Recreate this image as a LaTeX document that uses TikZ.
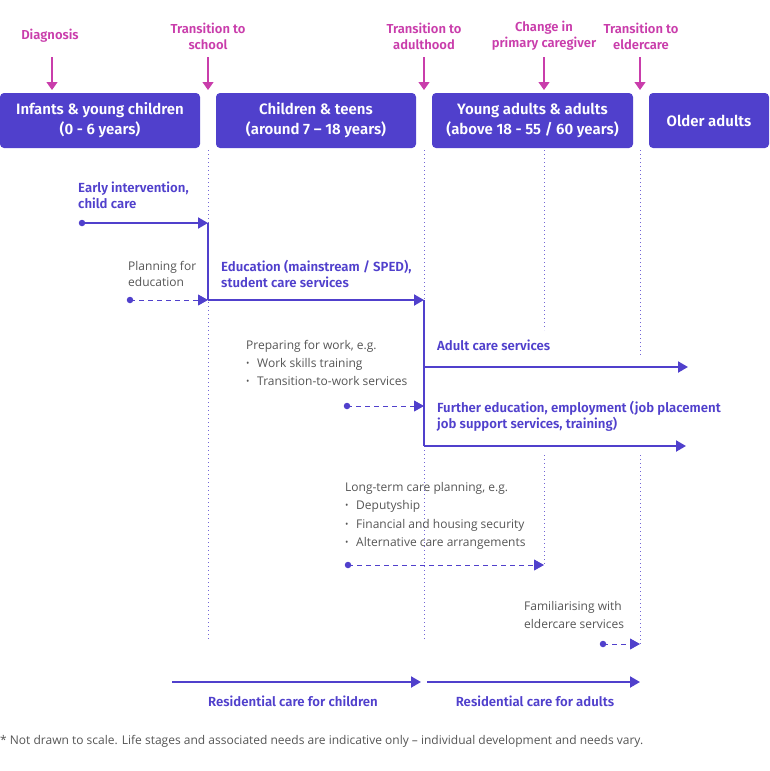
\documentclass[tikz,border=0pt]{standalone}
\usepackage{fontspec}
\setmainfont{Fira Sans}[BoldFont={Fira Sans SemiBold}]
\newfontfamily\greyfont{Open Sans}
\usetikzlibrary{arrows.meta}
\definecolor{pur}{HTML}{5040CC}
\definecolor{mag}{HTML}{C93DAB}
\definecolor{gry}{HTML}{555555}
\newcommand{\bul}{\makebox[11pt][l]{\fontsize{9}{9}\selectfont\raisebox{1pt}{•}}}
\begin{document}
\begin{tikzpicture}[x=1pt,y=-1pt,
  stage/.style={fill=pur, rounded corners=4pt, text=white, font=\bfseries\fontsize{15}{20}\selectfont, align=center, minimum height=55pt, inner sep=0pt},
  magl/.style={text=mag, font=\bfseries\fontsize{13}{16}\selectfont, align=center, inner sep=0pt},
  magarrow/.style={draw=mag, line width=1.3pt, -{Triangle[length=8pt,width=11pt]}},
  purl/.style={text=pur, font=\bfseries\fontsize{13.2}{16}\selectfont, align=left, anchor=base west, inner sep=0pt},
  gl/.style={text=gry, font=\greyfont\fontsize{12}{18}\selectfont, align=left, anchor=base west, inner sep=0pt},
  dotline/.style={draw=pur!80, line width=0.9pt, dash pattern=on 0.9pt off 3.1pt},
  mainarrow/.style={draw=pur, line width=2pt, -{Triangle[length=10pt,width=11pt]}},
  mainline/.style={draw=pur, line width=2pt},
  dasharrow/.style={draw=pur, line width=1pt, dash pattern=on 5pt off 4pt, -{Triangle[length=10pt,width=11pt]}},
  dotnode/.style={circle, fill=pur, minimum size=6.5pt, inner sep=0pt}]
\useasboundingbox (0,0) rectangle (770,771);

% guide dotted lines
\coordinate (g1a) at (208,150); \coordinate (g1b) at (208,640);
\coordinate (g2a) at (424,150); \coordinate (g2b) at (424,640);
\coordinate (g3a) at (544,150); \coordinate (g3b) at (544,330);
\coordinate (g3c) at (544,455); \coordinate (g3d) at (544,565);
\coordinate (g4a) at (640,150); \coordinate (g4b) at (640,355);
\coordinate (g4c) at (640,455); \coordinate (g4d) at (640,644);
\draw[dotline] (g1a) -- (g1b);
\draw[dotline] (g2a) -- (g2b);
\draw[dotline] (g3a) -- (g3b);
\draw[dotline] (g3c) -- (g3d);
\draw[dotline] (g4a) -- (g4b);
\draw[dotline] (g4c) -- (g4d);

% stage boxes
\node[stage, minimum width=200pt] (b1) at (100,120.5) {Infants \& young children\\(0 - 6 years)};
\node[stage, minimum width=200pt] (b2) at (316,120.5) {Children \& teens\\(around 7 – 18 years)};
\node[stage, minimum width=201pt] (b3) at (532.5,120.5) {Young adults \& adults\\(above 18 - 55 / 60 years)};
\node[stage, minimum width=120pt] (b4) at (709,120.5) {Older adults};

% magenta labels and arrows
\node[magl] (m1) at (50,36) {Diagnosis};
\node[magl] (m2) at (208,36) {Transition to\\school};
\node[magl] (m3) at (424,36) {Transition to\\adulthood};
\node[magl] (m4) at (544,36) {Change in\\primary caregiver};
\node[magl] (m5) at (641,36) {Transition to\\eldercare};
\coordinate (a1s) at (52,57); \coordinate (a1e) at (52,90);
\coordinate (a2s) at (208,57); \coordinate (a2e) at (208,90);
\coordinate (a3s) at (424,57); \coordinate (a3e) at (424,90);
\coordinate (a4s) at (544,57); \coordinate (a4e) at (544,90);
\coordinate (a5s) at (640,57); \coordinate (a5e) at (640,90);
\draw[magarrow] (a1s) -- (a1e);
\draw[magarrow] (a2s) -- (a2e);
\draw[magarrow] (a3s) -- (a3e);
\draw[magarrow] (a4s) -- (a4e);
\draw[magarrow] (a5s) -- (a5e);

% main flow
\node[dotnode] (d1) at (82,223) {};
\coordinate (p1) at (208,223);
\coordinate (p2) at (208,300);
\coordinate (p3) at (424,300);
\coordinate (p4) at (424,446);
\coordinate (p5) at (424,367);
\coordinate (e1) at (688,367);
\coordinate (e2) at (686,446);
\draw[mainarrow] (d1.center) -- (p1);
\draw[mainline] (p1) -- (p2);
\draw[mainarrow] (p2) -- (p3);
\draw[mainline] (p3) -- (p4);
\draw[mainarrow] (p5) -- (e1);
\draw[mainarrow] (p4) -- (e2);

% dashed preparations
\node[dotnode] (d2) at (130,300) {};
\draw[dasharrow] (d2.center) -- (p2);
\node[dotnode] (d3) at (347,406) {};
\coordinate (p6) at (424,406);
\draw[dasharrow] (d3.center) -- (p6);
\node[dotnode] (d4) at (348,565) {};
\coordinate (p7) at (544,565);
\draw[dasharrow] (d4.center) -- (p7);
\node[dotnode] (d5) at (603,644) {};
\coordinate (p8) at (640,644);
\draw[dasharrow] (d5.center) -- (p8);

% purple labels (base = last line baseline)
\node[purl] (l1) at (78,208) {Early intervention,\\child care};
\node[purl] (l2) at (221,287) {Education (mainstream / SPED),\\student care services};
\node[purl] (l3) at (437,350) {Adult care services};
\node[purl] (l4) at (437,428) {Further education, employment (job placement\\job support services, training)};

% grey labels
\node[gl, font=\greyfont\fontsize{12}{16}\selectfont] (t1) at (128,286.5) {Planning for\\education};
\node[gl] (t2) at (246,385.5) {Preparing for work, e.g.\\\bul Work skills training\\\bul Transition-to-work services};
\node[gl, font=\greyfont\fontsize{12}{18.3}\selectfont] (t3) at (345,546.5) {Long-term care planning, e.g.\\\bul Deputyship\\\bul Financial and housing security\\\bul Alternative care arrangements};
\node[gl] (t4) at (524,628.5) {Familiarising with\\eldercare services};

% residential care
\coordinate (r1) at (172,682); \coordinate (r2) at (421,682);
\coordinate (r3) at (427,682); \coordinate (r4) at (640,682);
\draw[mainarrow] (r1) -- (r2);
\draw[mainarrow] (r3) -- (r4);
\node[purl, anchor=base] (rc1) at (293,706) {Residential care for children};
\node[purl, anchor=base] (rc2) at (535,706) {Residential care for adults};

% footnote
\node[gl] (fn) at (0,744.5) {* Not drawn to scale. Life stages and associated needs are indicative only – individual development and needs vary.};
\end{tikzpicture}
\end{document}
